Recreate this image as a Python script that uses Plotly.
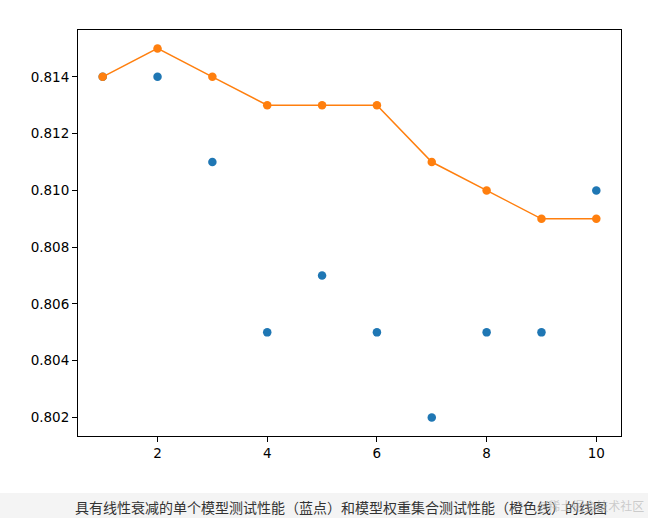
import plotly.graph_objects as go

x_vals = [1, 2, 3, 4, 5, 6, 7, 8, 9, 10]
single_model = [0.814, 0.814, 0.811, 0.805, 0.807, 0.805, 0.802, 0.805, 0.805, 0.810]
ensemble = [0.814, 0.815, 0.814, 0.813, 0.813, 0.813, 0.811, 0.810, 0.809, 0.809]
y_ticks = [0.802, 0.804, 0.806, 0.808, 0.810, 0.812, 0.814]
x_ticks = [2, 4, 6, 8, 10]
caption = "具有线性衰减的单个模型测试性能（蓝点）和模型权重集合测试性能（橙色线）的线图"
watermark = "@稀土掘金技术社区"

W, H = 648, 518
ml, mr, mt, mb = 78, 27, 30, 82
pw, ph = W - ml - mr, H - mt - mb

fig = go.Figure()
fig.add_trace(go.Scatter(x=x_vals, y=single_model, mode="markers",
                         marker=dict(color="#1f77b4", size=8.5, line=dict(width=0)),
                         showlegend=False))
fig.add_trace(go.Scatter(x=x_vals, y=ensemble, mode="lines+markers",
                         line=dict(color="#ff7f0e", width=1.5),
                         marker=dict(color="#ff7f0e", size=8.5, line=dict(width=0)),
                         showlegend=False))

def py(pix):
    return (H - mb - pix) / ph

def px(pix):
    return (pix - ml) / pw

fig.add_shape(type="rect", xref="paper", yref="paper",
              x0=px(0), x1=px(W), y0=py(493), y1=py(H),
              fillcolor="#f4f4f4", line=dict(width=0), layer="below")
fig.add_annotation(x=px(341), y=py(507), xref="paper", yref="paper",
                   xanchor="center", yanchor="middle",
                   text=caption, showarrow=False,
                   font=dict(family="Noto Sans CJK SC", size=14, color="#333333"))
fig.add_annotation(x=px(646), y=py(505), xref="paper", yref="paper",
                   xanchor="right", yanchor="middle",
                   text=watermark, showarrow=False,
                   font=dict(family="Noto Sans CJK SC", size=12, color="rgba(175,175,175,0.6)"))

axis_common = dict(showgrid=False, zeroline=False, showline=True, linecolor="black",
                   linewidth=1, mirror=True, ticks="outside", ticklen=5, tickwidth=1,
                   tickcolor="black",
                   tickfont=dict(family="DejaVu Sans", size=13.5, color="black"))

fig.update_xaxes(range=[0.55, 10.45], tickvals=x_ticks, **axis_common)
fig.update_yaxes(range=[0.80135, 0.81565], tickvals=y_ticks, tickformat=".3f", **axis_common)

fig.update_layout(width=W, height=H, margin=dict(l=ml, r=mr, t=mt, b=mb),
                  plot_bgcolor="white", paper_bgcolor="white")

fig.write_html("out.html", config={"displayModeBar": False},
               post_script="document.body.style.margin='0';document.body.style.overflow='hidden';")
